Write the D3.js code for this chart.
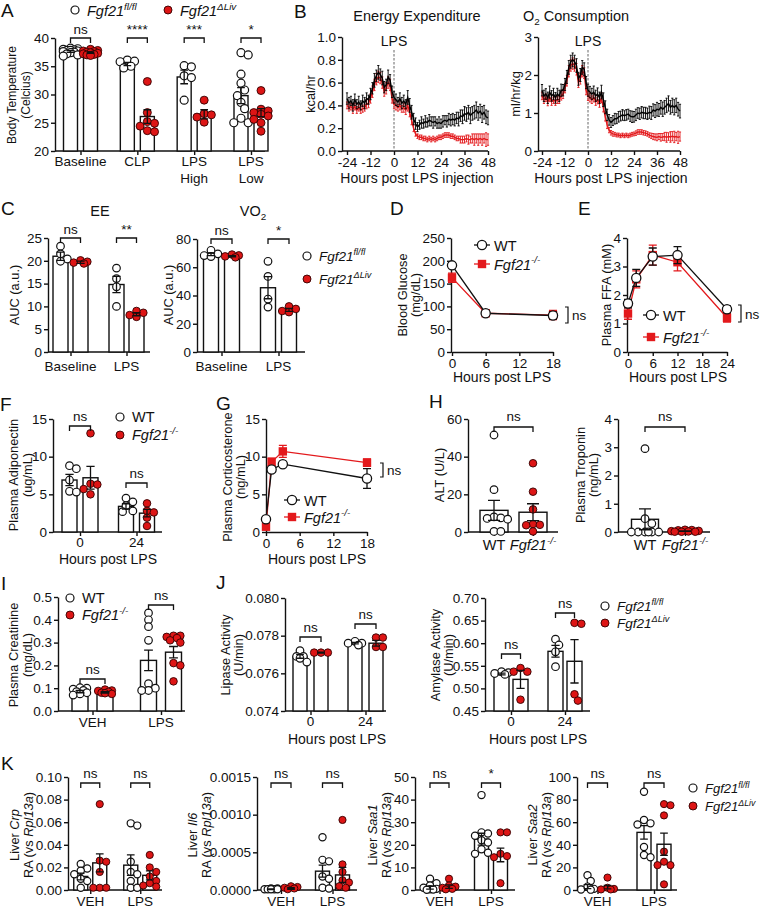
<!DOCTYPE html>
<html><head><meta charset="utf-8">
<script src="https://cdn.jsdelivr.net/npm/d3@7"></script>
<style>body{margin:0;background:#fff}svg{display:block}</style>
</head><body><svg id="c" width="763" height="909"></svg>
<script>
// ================= DATA =================
// Panel A
const A_groups = ["Baseline", "CLP", "LPS|High", "LPS|Low"];
const A_ticks = [20, 25, 30, 35, 40];
const A_sig = ["ns", "****", "***", "*"];
const A_fl_mean = [37.6, 35.4, 33.1, 29.8];
const A_fl_sem = [0.15, 0.3, 1.2, 1.4];
const A_fl_pts = [[38.2,38.1,38.0,37.9,37.8,37.8,37.7,37.6,37.5,37.4,37.2,37.0,36.8],[36.1,35.9,35.8,35.0,34.7],[35.1,34.9,33.3,33.0,29.0],[37.4,37.0,33.6,32.0,30.8,29.8,28.6,27.5,25.8,25.0,25.0]];
const A_ko_mean = [37.4, 26.1, 26.5, 26.8];
const A_ko_sem = [0.12, 1.2, 0.8, 0.7];
const A_ko_pts = [[38.0,37.8,37.7,37.6,37.5,37.4,37.3,37.2,37.1,37.0,36.9],[32.3,26.8,25.2,24.9,24.4,23.6,23.4],[29.0,26.6,26.4,26.0,25.1],[30.7,27.4,27.1,26.8,26.5,26.2,25.6,25.0,23.5]];

// Panel B
const B_xticks = [-24, -12, 0, 12, 24, 36, 48];
const B_hours = d3.range(-24, 49);
const B_EE_ticks = [0, 0.2, 0.4, 0.6, 0.8, 1.0];
const B_VO2_ticks = [0, 1, 2, 3];
const B_EE_fl = [
 .46,.42,.44,.40,.45,.41, .43,.40,.44,.42,.46,.45, .50,.55,.62,.66,.69,.67, .64,.56,.58,.65,.62,.52,
 .47,.45,.43,.46,.42,.44, .41,.47,.40,.34,.28,.24, .21,.23,.25,.24,.26,.25, .27,.26,.25,.26,.24,.25,
 .24,.26,.27,.26,.28,.27, .28,.27,.29,.28,.31,.30, .33,.32,.34,.31,.33,.34, .36,.33,.35,.32,.34,.30, .29];
const B_EE_fl_sem = [
 .05,.05,.04,.05,.05,.04, .05,.04,.05,.05,.05,.04, .05,.05,.06,.05,.06,.05, .06,.05,.05,.06,.05,.05,
 .05,.05,.04,.05,.05,.05, .04,.06,.06,.06,.05,.05, .04,.04,.05,.04,.05,.04, .05,.04,.05,.04,.04,.05,
 .04,.05,.04,.05,.05,.05, .05,.05,.05,.06,.05,.06, .06,.06,.06,.07,.06,.06, .07,.06,.06,.07,.06,.06, .06];
const B_EE_ko = [
 .40,.38,.39,.37,.39,.36, .38,.36,.37,.38,.41,.42, .46,.52,.58,.63,.65,.64, .60,.52,.55,.60,.58,.46,
 .41,.40,.38,.40,.37,.38, .36,.40,.34,.27,.20,.15, .13,.12,.12,.11,.11,.10, .11,.10,.11,.10,.11,.12,
 .12,.13,.14,.14,.14,.13, .13,.12,.11,.11,.10,.10, .10,.11,.10,.10,.11,.10, .11,.10,.11,.10,.11,.10, .10];
const B_EE_ko_sem = [
 .03,.03,.03,.04,.03,.03, .03,.03,.03,.03,.04,.04, .04,.05,.05,.05,.05,.05, .05,.04,.05,.05,.05,.04,
 .04,.04,.03,.04,.03,.04, .04,.05,.04,.04,.03,.02, .02,.02,.02,.02,.02,.02, .02,.02,.02,.02,.02,.02,
 .02,.02,.02,.02,.02,.02, .02,.02,.02,.02,.03,.03, .03,.03,.04,.03,.04,.05, .04,.05,.04,.05,.04,.06, .05];
const B_VO2_fl = [
 1.60,1.45,1.50,1.40,1.55,1.45, 1.50,1.40,1.50,1.45,1.60,1.60, 1.75,1.95,2.20,2.35,2.40,2.35, 2.25,1.90,2.00,2.20,2.15,1.80,
 1.60,1.55,1.50,1.55,1.45,1.50, 1.40,1.55,1.35,1.15,0.95,0.82, 0.75,0.80,0.85,0.85,0.90,0.92, 0.95,0.93,0.95,0.97,0.92,0.90,
 0.90,0.95,1.00,0.98,1.02,1.00, 1.00,0.98,1.02,1.00,1.08,1.05, 1.10,1.08,1.15,1.10,1.15,1.20, 1.25,1.15,1.20,1.15,1.20,1.10, 1.05];
const B_VO2_fl_sem = [
 .15,.15,.14,.15,.16,.14, .15,.14,.15,.15,.16,.15, .16,.17,.18,.17,.18,.17, .18,.17,.17,.18,.17,.16,
 .16,.15,.15,.16,.15,.16, .15,.18,.18,.17,.15,.14, .13,.13,.14,.13,.14,.13, .14,.13,.14,.13,.14,.15,
 .14,.15,.14,.15,.15,.15, .15,.15,.16,.17,.16,.17, .18,.17,.18,.19,.18,.19, .20,.18,.19,.20,.19,.18, .18];
const B_VO2_ko = [
 1.45,1.35,1.40,1.30,1.40,1.30, 1.35,1.30,1.35,1.35,1.45,1.50, 1.65,1.85,2.10,2.25,2.30,2.25, 2.15,1.80,1.90,2.10,2.05,1.60,
 1.45,1.40,1.35,1.40,1.30,1.35, 1.25,1.40,1.15,0.90,0.68,0.55, 0.48,0.45,0.44,0.42,0.42,0.40, 0.42,0.40,0.42,0.40,0.42,0.44,
 0.45,0.47,0.50,0.50,0.50,0.48, 0.47,0.45,0.42,0.40,0.38,0.37, 0.36,0.38,0.36,0.37,0.38,0.36, 0.38,0.37,0.39,0.37,0.38,0.36, 0.38];
const B_VO2_ko_sem = [
 .10,.10,.10,.11,.10,.10, .10,.10,.10,.10,.11,.12, .12,.14,.15,.15,.15,.15, .15,.13,.14,.15,.14,.12,
 .12,.11,.10,.11,.10,.11, .10,.13,.12,.11,.09,.07, .06,.06,.05,.05,.05,.05, .05,.05,.05,.05,.05,.05,
 .05,.06,.06,.06,.06,.06, .06,.06,.06,.07,.08,.08, .09,.08,.10,.09,.11,.13, .10,.14,.12,.15,.11,.16, .12];

// Panel C
const C_groups = ["Baseline", "LPS"];
const C_EE_ticks = [0, 5, 10, 15, 20, 25];
const C_VO2_ticks = [0, 20, 40, 60, 80];
const C_EE_sig = ["ns", "**"];
const C_VO2_sig = ["ns", "*"];
const C_EE_fl_mean = [21.0, 14.8], C_EE_fl_sem = [0.9, 1.8];
const C_EE_fl_pts = [[23.2,21.5,20.4,19.9],[18.4,16.1,14.3,10.0]];
const C_EE_ko_mean = [19.7, 8.3], C_EE_ko_sem = [0.25, 0.35];
const C_EE_ko_pts = [[20.1,19.8,19.6,19.4],[9.0,8.6,8.1,7.7]];
const C_VO2_fl_mean = [69.2, 45.5], C_VO2_fl_sem = [0.9, 7.8];
const C_VO2_fl_pts = [[72.0,69.5,68.3,67.6],[64.2,53.5,37.5,31.8]];
const C_VO2_ko_mean = [67.8, 29.8], C_VO2_ko_sem = [0.5, 1.1];
const C_VO2_ko_pts = [[69.0,68.4,67.7,67.0],[32.3,30.5,29.0,28.2]];

// Panel D
const D_hours = [0, 6, 18];
const D_xticks = [0, 6, 12, 18];
const D_yticks = [0, 50, 100, 150, 200, 250];
const D_wt = [190, 85, 80], D_wt_sem = [6, 3, 8];
const D_ko = [163, 85, 81], D_ko_sem = [10, 3, 10];

// Panel E
const E_hours = [0, 2, 6, 12, 24];
const E_xticks = [0, 6, 12, 18, 24];
const E_yticks = [0, 1, 2, 3, 4];
const E_wt = [1.7, 2.6, 3.35, 3.4, 1.5], E_wt_sem = [0.15, 0.3, 0.3, 0.3, 0.12];
const E_ko = [1.35, 2.55, 3.4, 3.15, 1.2], E_ko_sem = [0.2, 0.3, 0.35, 0.3, 0.15];

// Panel F
const F_groups = ["0", "24"];
const F_ticks = [0, 5, 10, 15];
const F_sig = ["ns", "ns"];
const F_wt_mean = [6.9, 3.4], F_wt_sem = [0.75, 0.35];
const F_wt_pts = [[8.8,8.4,6.9,5.4,5.3],[4.5,4.0,3.5,2.8,2.7]];
const F_ko_mean = [7.2, 2.5], F_ko_sem = [1.5, 0.5];
const F_ko_pts = [[13.1,6.4,6.3,5.7,5.0],[3.8,2.8,2.6,1.9,0.8]];

// Panel G
const G_hours = [0, 1, 3, 18];
const G_xticks = [0, 6, 12, 18];
const G_yticks = [0, 5, 10, 15];
const G_wt = [1.7, 8.3, 9.0, 7.1], G_wt_sem = [0.3, 0.3, 0.2, 1.3];
const G_ko = [0.7, 9.3, 10.7, 9.2], G_ko_sem = [0.2, 0.5, 0.8, 0.5];

// Panel H
const H_labels = ["WT", "Fgf21-/-"];
const H_ALT_ticks = [0, 20, 40, 60];
const H_Trop_ticks = [0, 1, 2, 3, 4];
const H_ALT_mean = [11.5, 10.5], H_ALT_sem = [5.3, 4.5];
const H_ALT_pts = [[51.5,22.5,8.0,7.5,7.2,6.8,0.3,0.3],[36.5,21.4,12.0,4.2,3.8,3.6,0.3]];
const H_Trop_mean = [0.45, 0.03], H_Trop_sem = [0.37, 0.01];
const H_Trop_pts = [[2.95,0.47,0.3,0,0,0,0,0,0],[0.08,0.07,0.06,0.04,0.03,0.02,0.01,0.01,0.01]];

// Panel I
const I_groups = ["VEH", "LPS"];
const I_ticks = [0, 0.1, 0.2, 0.3, 0.4, 0.5];
const I_sig = ["ns", "ns"];
const I_wt_mean = [0.085, 0.222], I_wt_sem = [0.005, 0.045];
const I_wt_pts = [[0.102,0.1,0.096,0.09,0.085,0.08,0.075,0.07],[0.43,0.40,0.37,0.31,0.12,0.10,0.09,0.09]];
const I_ko_mean = [0.082, 0.258], I_ko_sem = [0.003, 0.025];
const I_ko_pts = [[0.094,0.09,0.088,0.084,0.08,0.078,0.075],[0.33,0.33,0.325,0.32,0.31,0.30,0.21,0.20,0.13]];

// Panel J
const J_groups = ["0", "24"];
const J_lip_ticks = [0.074, 0.076, 0.078, 0.080];
const J_amy_ticks = [0.45, 0.50, 0.55, 0.60, 0.65, 0.70];
const J_sig = ["ns", "ns"];
const J_lip_fl_mean = [0.0769, 0.0776], J_lip_fl_sem = [0.0001, 0.00004];
const J_lip_fl_pts = [[0.0772,0.0769,0.0769,0.0768,0.0766],[0.0777,0.0776,0.0776,0.0775]];
const J_lip_ko_mean = [0.0771, 0.0776], J_lip_ko_sem = [0.00003, 0.00015];
const J_lip_ko_pts = [[0.0771,0.0771,0.0771],[0.0779,0.0779,0.0774,0.0774]];
const J_amy_fl_mean = [0.532, 0.582], J_amy_fl_sem = [0.002, 0.013];
const J_amy_fl_pts = [[0.537,0.535,0.533,0.531],[0.609,0.596,0.581,0.548]];
const J_amy_ko_mean = [0.52, 0.56], J_amy_ko_sem = [0.02, 0.048];
const J_amy_ko_pts = [[0.545,0.537,0.537,0.475],[0.643,0.645,0.487,0.473]];

// Panel K
const K_groups = ["VEH", "LPS"];
const K_crp_ticks = [0, 0.02, 0.04, 0.06, 0.08, 0.10];
const K_il6_ticks = [0, 0.0005, 0.0010, 0.0015];
const K_saa1_ticks = [0, 10, 20, 30, 40, 50];
const K_saa2_ticks = [0, 20, 40, 60, 80, 100];
const K_crp_sig = ["ns", "ns"], K_il6_sig = ["ns", "ns"], K_saa1_sig = ["ns", "*"], K_saa2_sig = ["ns", "ns"];
const K_crp_fl_mean = [0.012, 0.022], K_crp_fl_sem = [0.003, 0.009];
const K_crp_fl_pts = [[0.023,0.019,0.017,0.014,0.010,0.008,0.002],[0.059,0.057,0.025,0.016,0.014,0.008,0.002,0.002]];
const K_crp_ko_mean = [0.024, 0.013], K_crp_ko_sem = [0.008, 0.004];
const K_crp_ko_pts = [[0.076,0.026,0.025,0.016,0.002,0.002,0.002],[0.031,0.020,0.016,0.012,0.008,0.006,0.004,0.003]];
const K_il6_fl_mean = [0.00001, 0.00025], K_il6_fl_sem = [0.000005, 0.00008];
const K_il6_fl_pts = [[0.00002,0.00002,0.00001,0.00001,0.00001,0.00001,0.00001],[0.0007,0.0004,0.00038,0.00018,0.00015,0.00003,0.00002]];
const K_il6_ko_mean = [0.00002, 0.0002], K_il6_ko_sem = [0.00001, 0.0001];
const K_il6_ko_pts = [[0.00005,0.00004,0.00003,0.00002,0.00001],[0.00093,0.00034,0.00024,0.00013,0.0001,0.00005,0.00003]];
const K_saa1_fl_mean = [1.0, 22.5], K_saa1_fl_sem = [0.6, 2.6];
const K_saa1_fl_pts = [[5,3,2,1,0.5,0.3,0.2,0.1],[42,25.5,25,24,22,21,18,16.5,16]];
const K_saa1_ko_mean = [1.5, 15.5], K_saa1_ko_sem = [0.8, 3.0];
const K_saa1_ko_pts = [[5,2,1.5,1,0.5,0.3],[25.5,25.5,16,15,14.5,3]];
const K_saa2_fl_mean = [3, 51], K_saa2_fl_sem = [1.8, 6];
const K_saa2_fl_pts = [[13,8,3,1,0.5,0.3],[87,62,59,58,38,31,29]];
const K_saa2_ko_mean = [2.5, 40.5], K_saa2_ko_sem = [1.5, 9.8];
const K_saa2_ko_pts = [[11,2,1,0.5,0.5],[76,75,66,34,25,22,22,5]];

// ================= DRAWING =================
const svg = d3.select("#c");
const FONT = "'Liberation Sans', Arial, Helvetica, sans-serif";
const INK = "#111";
const RED = "#dd1515";
const LRED = "#e3191c";
const SW = 1.4;
const FS = 13.5;
const YL = 12.8;

const FL = [["Fgf21", "i"], ["fl/fl", "i^"]];
const DL = [["Fgf21", "i"], ["\u0394Liv", "i^"]];
const KO = [["Fgf21", "i"], ["-/-", "i^"]];

function rich(x, y, parts, fs, opts = {}) {
  const g = svg.append("g").attr("transform", `translate(${x},${y})${opts.rot ? " rotate(-90)" : ""}`);
  const t = g.append("text").attr("font-size", fs).attr("text-anchor", opts.anchor || "middle")
    .attr("font-family", FONT).attr("fill", INK);
  let shift = 0;
  (typeof parts === "string" ? [parts] : parts).forEach(p => {
    const s = Array.isArray(p) ? p[0] : p;
    const st = Array.isArray(p) ? p[1] : "";
    const ts = t.append("tspan").text(s);
    if (st.includes("i")) ts.attr("font-style", "italic");
    let target = 0;
    if (st.includes("^")) { target = -0.42 * fs; ts.attr("font-size", fs * 0.68); }
    if (st.includes("_")) { target = 0.3 * fs; ts.attr("font-size", fs * 0.68); }
    if (target - shift !== 0) ts.attr("dy", target - shift);
    shift = target;
  });
  return t;
}
function ylab(xc, cy, parts, fs = YL) { rich(xc + fs * 0.36, cy, parts, fs, { rot: true }); }
function letter(x, y, s) { rich(x, y, s, 19, { anchor: "start" }); }

function axisStyle(sel, fs = FS) {
  sel.attr("font-family", FONT).attr("font-size", fs);
  sel.selectAll("path,line").attr("stroke", INK).attr("stroke-width", SW);
  sel.selectAll("text").attr("fill", INK);
}
function yAxis(ax, y, ticks, fmt) {
  const g = svg.append("g").attr("transform", `translate(${ax},0)`)
    .call(d3.axisLeft(y).tickValues(ticks).tickFormat(fmt).tickSize(4).tickSizeOuter(0).tickPadding(2));
  axisStyle(g);
}
function errBar(g, cx, ya, yb, cap, color, w) {
  g.append("path").attr("d", `M${cx - cap / 2},${ya}H${cx + cap / 2}M${cx},${ya}V${yb}M${cx - cap / 2},${yb}H${cx + cap / 2}`)
    .attr("stroke", color).attr("stroke-width", w).attr("fill", "none");
}
function dot(g, x, y, r, red) {
  g.append("circle").attr("cx", x).attr("cy", y).attr("r", r)
    .attr("fill", red ? RED : "#fff").attr("stroke", red ? "#300" : INK).attr("stroke-width", red ? 0.9 : 1.2);
}
// deterministic scatter layout: spreads points sideways inside maxW, allows overlap when crowded
function swarm(vals, cx, y, r, maxW) {
  const placed = [];
  const cands = [0];
  const step = r * 0.9;
  for (let k = 1; k * step <= maxW + 0.01; k++) cands.push(k * step, -k * step);
  vals.map(v => ({ py: y(v) })).sort((a, b) => a.py - b.py).forEach(p => {
    let px = null, bestPx = cx, bestD = -1;
    for (const dx of cands) {
      const d = placed.length ? Math.min(...placed.map(q => Math.hypot(q.px - (cx + dx), q.py - p.py))) : 1e9;
      if (d >= 1.7 * r) { px = cx + dx; break; }
      if (d > bestD) { bestD = d; bestPx = cx + dx; }
    }
    placed.push({ px: px === null ? bestPx : px, py: p.py });
  });
  return placed;
}

function barDot(o) {
  const y = d3.scaleLinear().domain(o.domain).range([o.y0, o.y1]);
  const x = d3.scalePoint().domain(o.groups).range([o.c0, o.c1]);
  const g = svg.append("g");
  g.append("line").attr("x1", o.ax).attr("x2", o.xEnd).attr("y1", o.y0).attr("y2", o.y0)
    .attr("stroke", INK).attr("stroke-width", SW);
  if (o.barLabels) {
    const xb = d3.scalePoint().domain(o.barLabels).range([o.c0 + o.series[0].dx, o.c0 + o.series[1].dx]);
    const xa = g.append("g").attr("transform", `translate(0,${o.y0})`)
      .call(d3.axisBottom(xb).tickSize(4).tickSizeOuter(0).tickFormat(""));
    xa.select(".domain").remove(); axisStyle(xa);
    o.barLabels.forEach(l => rich(xb(l), o.labelY, l === "WT" ? "WT" : KO, 14.5));
  } else {
    const xa = g.append("g").attr("transform", `translate(0,${o.y0})`)
      .call(d3.axisBottom(x).tickSize(4).tickSizeOuter(0).tickFormat(""));
    xa.select(".domain").remove(); axisStyle(xa);
    o.groups.forEach(n => n.split("|").forEach((ln, li) => rich(x(n), o.labelY + li * 17, ln, 13.5)));
  }
  o.series.forEach(s => o.groups.forEach((n, gi) => {
    const cx = x(n) + s.dx, m = s.mean[gi];
    g.append("rect").attr("x", cx - o.bw / 2).attr("width", o.bw).attr("y", y(m)).attr("height", o.y0 - y(m))
      .attr("fill", "#fff").attr("stroke", INK).attr("stroke-width", SW);
  }));
  const maxW = o.spread || (o.bw / 2 + 1);
  o.series.forEach(s => o.groups.forEach((n, gi) => {
    const cx = x(n) + s.dx;
    swarm(s.pts[gi], cx, y, o.r, maxW).forEach(p => dot(g, p.px, p.py, o.r, s.red));
  }));
  o.series.forEach(s => o.groups.forEach((n, gi) => {
    const cx = x(n) + s.dx, m = s.mean[gi], e = s.sem[gi];
    errBar(g, cx, y(m + e), y(m - e), o.cap || o.bw * 0.55, INK, 1.3);
  }));
  yAxis(o.ax, y, o.ticks, o.fmt);
  if (o.sig) o.groups.forEach((n, gi) => {
    const x1 = x(n) + o.series[0].dx, x2 = x(n) + o.series[1].dx, by = o.sigB[gi];
    g.append("path").attr("d", `M${x1},${by + 5}V${by}H${x2}V${by + 5}`).attr("fill", "none")
      .attr("stroke", INK).attr("stroke-width", 1.3);
    rich((x1 + x2) / 2, o.sigT[gi], o.sig[gi], FS);
  });
}

function marker(g, type, x, y) {
  if (type === "c") g.append("circle").attr("cx", x).attr("cy", y).attr("r", 4.6).attr("fill", "#fff").attr("stroke", INK).attr("stroke-width", 1.3);
  else g.append("rect").attr("x", x - 4.2).attr("y", y - 4.2).attr("width", 8.4).attr("height", 8.4).attr("fill", LRED);
}
function lineChart(o) {
  const x = d3.scaleLinear().domain(o.xdom).range(o.xr);
  const y = d3.scaleLinear().domain(o.ydom).range([o.y0, o.y1]);
  const xa = svg.append("g").attr("transform", `translate(0,${o.y0})`)
    .call(d3.axisBottom(x).tickValues(o.xticks).tickFormat(d => String(d)).tickSize(4).tickSizeOuter(0).tickPadding(2));
  axisStyle(xa);
  svg.append("line").attr("x1", o.ax).attr("x2", o.xr[0]).attr("y1", o.y0).attr("y2", o.y0).attr("stroke", INK).attr("stroke-width", SW);
  yAxis(o.ax, y, o.yticks, o.fmt);
  const g = svg.append("g");
  const line = d3.line().x(d => x(d[0])).y(d => y(d[1]));
  o.series.forEach(s => {
    const pts = s.h.map((h, i) => [h, s.v[i], s.e[i]]);
    g.append("path").attr("d", line(pts)).attr("fill", "none").attr("stroke", s.color).attr("stroke-width", 1.3);
    pts.forEach(p => errBar(g, x(p[0]), y(p[1] + p[2]), y(p[1] - p[2]), 8, s.color, 1.3));
    pts.forEach(p => marker(g, s.m, x(p[0]), y(p[1])));
  });
  o.leg.forEach(l => {
    const col = l.m === "c" ? INK : LRED;
    svg.append("line").attr("x1", l.x - 8).attr("x2", l.x + 8).attr("y1", l.y).attr("y2", l.y).attr("stroke", col).attr("stroke-width", 1.3);
    marker(svg, l.m, l.x, l.y);
    rich(l.x + 12, l.y + 5.5, l.t, 14.5, { anchor: "start" });
  });
  if (o.ns) {
    const b = o.ns;
    svg.append("path").attr("d", `M${b.x - 3},${b.ya}H${b.x}V${b.yb}H${b.x - 3}`).attr("fill", "none").attr("stroke", INK).attr("stroke-width", 1.2);
    rich(b.x + 4, (b.ya + b.yb) / 2 + 5, "ns", FS, { anchor: "start" });
  }
}

function tsChart(o) {
  const x = d3.scaleLinear().domain([-24, 48]).range(o.xr);
  const y = d3.scaleLinear().domain(o.ydom).range([o.y0, o.y1]);
  const xa = svg.append("g").attr("transform", `translate(0,${o.y0})`)
    .call(d3.axisBottom(x).tickValues(B_xticks).tickFormat(d => String(d)).tickSize(4).tickSizeOuter(0).tickPadding(2));
  xa.select(".domain").remove(); axisStyle(xa);
  svg.append("line").attr("x1", o.ax).attr("x2", o.xr[1]).attr("y1", o.y0).attr("y2", o.y0).attr("stroke", INK).attr("stroke-width", SW);
  svg.append("line").attr("x1", x(0)).attr("x2", x(0)).attr("y1", 50).attr("y2", o.y0)
    .attr("stroke", "#666").attr("stroke-width", 1).attr("stroke-dasharray", "2.5,1.5");
  rich(x(0), 46, "LPS", 14);
  const g = svg.append("g");
  o.series.forEach(s => {
    const pts = B_hours.map((h, i) => [h, s.v[i], s.e[i]]);
    pts.forEach(p => errBar(g, x(p[0]), y(p[1] + p[2]), y(p[1] - p[2]), 2.2, s.color, 0.9));
    g.append("path").attr("d", d3.line().x(d => x(d[0])).y(d => y(d[1]))(pts)).attr("fill", "none").attr("stroke", s.color).attr("stroke-width", 1.4);
  });
  yAxis(o.ax, y, o.yticks, o.fmt);
}

function legend2(x, y1, y2, r, fs) {
  dot(svg, x, y1, r, false); rich(x + 12, y1 + 5, FL, fs, { anchor: "start" });
  dot(svg, x, y2, r, true); rich(x + 12, y2 + 5, DL, fs, { anchor: "start" });
}
function legendKO(x, y1, y2, r, fs) {
  dot(svg, x, y1, r, false); rich(x + 12, y1 + 5, "WT", fs, { anchor: "start" });
  dot(svg, x, y2, r, true); rich(x + 12, y2 + 5, KO, fs, { anchor: "start" });
}
const fD = d3.format("d");

// ---------- Panel A ----------
letter(1, 17, "A");
dot(svg, 75, 10, 4, false); rich(87, 16, FL, 14.5, { anchor: "start" });
dot(svg, 168, 10, 4, true); rich(180, 16, DL, 14.5, { anchor: "start" });
barDot({ ax: 55, xEnd: 265, y0: 151, y1: 38, domain: [20, 40], ticks: A_ticks, fmt: fD, groups: A_groups,
  c0: 80.5, c1: 251, bw: 14, r: 4, labelY: 166, sig: A_sig, sigB: [38, 38, 38, 38], sigT: [34, 34, 34, 34],
  series: [{ dx: -10, mean: A_fl_mean, sem: A_fl_sem, pts: A_fl_pts, red: false },
           { dx: 10, mean: A_ko_mean, sem: A_ko_sem, pts: A_ko_pts, red: true }] });
ylab(12, 95, "Body Temperature", 12); ylab(26, 95, "(Celcius)", 12);

// ---------- Panel B ----------
letter(294, 18, "B");
rich(417, 21, "Energy Expenditure", 14.5);
rich(576, 21, ["O", ["2", "_"], " Consumption"], 14.5);
tsChart({ ax: 342, xr: [347, 488], y0: 151, y1: 37, ydom: [0, 1], yticks: B_EE_ticks, fmt: d3.format(".1f"),
  series: [{ v: B_EE_ko, e: B_EE_ko_sem, color: LRED }, { v: B_EE_fl, e: B_EE_fl_sem, color: "#000" }] });
tsChart({ ax: 538, xr: [542, 680], y0: 151, y1: 37, ydom: [0, 3], yticks: B_VO2_ticks, fmt: fD,
  series: [{ v: B_VO2_ko, e: B_VO2_ko_sem, color: LRED }, { v: B_VO2_fl, e: B_VO2_fl_sem, color: "#000" }] });
ylab(310, 94, "kcal/hr"); ylab(515, 94, "ml/hr/kg");
rich(417, 183, "Hours post LPS injection", 14);
rich(611, 183, "Hours post LPS injection", 14);

// ---------- Panel C ----------
letter(1, 215, "C");
rich(100, 216, "EE", 14.5);
rich(253, 216, ["VO", ["2", "_"]], 14.5);
barDot({ ax: 48, xEnd: 150, y0: 352, y1: 238, domain: [0, 25], ticks: C_EE_ticks, fmt: fD, groups: C_groups,
  c0: 70.5, c1: 126.5, bw: 15, r: 3.8, labelY: 371, sig: C_EE_sig, sigB: [238, 238], sigT: [234, 234],
  series: [{ dx: -10, mean: C_EE_fl_mean, sem: C_EE_fl_sem, pts: C_EE_fl_pts, red: false },
           { dx: 10, mean: C_EE_ko_mean, sem: C_EE_ko_sem, pts: C_EE_ko_pts, red: true }] });
barDot({ ax: 197, xEnd: 305, y0: 352, y1: 239, domain: [0, 80], ticks: C_VO2_ticks, fmt: fD, groups: C_groups,
  c0: 221.5, c1: 278.5, bw: 15, r: 3.8, labelY: 371, sig: C_VO2_sig, sigB: [239, 239], sigT: [235, 235],
  series: [{ dx: -10.5, mean: C_VO2_fl_mean, sem: C_VO2_fl_sem, pts: C_VO2_fl_pts, red: false },
           { dx: 10.5, mean: C_VO2_ko_mean, sem: C_VO2_ko_sem, pts: C_VO2_ko_pts, red: true }] });
ylab(14, 295, "AUC (a.u.)"); ylab(168, 295, "AUC (a.u.)");
legend2(307, 256, 279, 4, 13.5);

// ---------- Panel D ----------
letter(390, 215, "D");
lineChart({ ax: 451, xr: [452, 553], xdom: [0, 18], xticks: D_xticks, y0: 352, y1: 238, ydom: [0, 250], yticks: D_yticks, fmt: fD,
  series: [{ h: D_hours, v: D_ko, e: D_ko_sem, color: LRED, m: "s" }, { h: D_hours, v: D_wt, e: D_wt_sem, color: INK, m: "c" }],
  leg: [{ x: 482, y: 245, m: "c", t: "WT" }, { x: 482, y: 264, m: "s", t: KO }],
  ns: { x: 568, ya: 307, yb: 323 } });
rich(502, 382, "Hours post LPS", 14);
ylab(402, 295, "Blood Glucose"); ylab(415, 295, "(mg/dL)");

// ---------- Panel E ----------
letter(578, 215, "E");
lineChart({ ax: 627, xr: [628, 727], xdom: [0, 24], xticks: E_xticks, y0: 352, y1: 238, ydom: [0, 4], yticks: E_yticks, fmt: fD,
  series: [{ h: E_hours, v: E_ko, e: E_ko_sem, color: LRED, m: "s" }, { h: E_hours, v: E_wt, e: E_wt_sem, color: INK, m: "c" }],
  leg: [{ x: 651, y: 315, m: "c", t: "WT" }, { x: 651, y: 337, m: "s", t: KO }],
  ns: { x: 741, ya: 305, yb: 322 } });
rich(678, 382, "Hours post LPS", 14);
ylab(606, 295, "Plasma FFA (mM)");

// ---------- Panel F ----------
letter(0, 411, "F");
barDot({ ax: 53, xEnd: 162, y0: 532, y1: 419, domain: [0, 15], ticks: F_ticks, fmt: fD, groups: F_groups,
  c0: 80, c1: 136.5, bw: 15, r: 3.8, labelY: 547, sig: F_sig, sigB: [426, 483], sigT: [421, 478],
  series: [{ dx: -10.5, mean: F_wt_mean, sem: F_wt_sem, pts: F_wt_pts, red: false },
           { dx: 10.5, mean: F_ko_mean, sem: F_ko_sem, pts: F_ko_pts, red: true }] });
rich(108, 564, "Hours post LPS", 14);
ylab(13, 475, "Plasma Adiponectin"); ylab(27, 475, "(ug/mL)");
legendKO(120, 417, 435, 4, 14.5);

// ---------- Panel G ----------
letter(216, 410, "G");
lineChart({ ax: 266, xr: [266, 367], xdom: [0, 18], xticks: G_xticks, y0: 532, y1: 419, ydom: [0, 15], yticks: G_yticks, fmt: fD,
  series: [{ h: G_hours, v: G_ko, e: G_ko_sem, color: LRED, m: "s" }, { h: G_hours, v: G_wt, e: G_wt_sem, color: INK, m: "c" }],
  leg: [{ x: 292, y: 500, m: "c", t: "WT" }, { x: 292, y: 517, m: "s", t: KO }],
  ns: { x: 383, ya: 463, yb: 477 } });
rich(317, 564, "Hours post LPS", 14);
ylab(227, 477, "Plasma Corticosterone"); ylab(240, 477, "(ng/mL)");

// ---------- Panel H ----------
letter(429, 408, "H");
barDot({ ax: 468, xEnd: 558, y0: 532, y1: 419, domain: [0, 60], ticks: H_ALT_ticks, fmt: fD, groups: ["g"],
  c0: 513.5, c1: 513.5, bw: 28, cap: 12, r: 3.8, spread: 15, labelY: 550, barLabels: H_labels, sig: ["ns"], sigB: [427], sigT: [421],
  series: [{ dx: -19.5, mean: [H_ALT_mean[0]], sem: [H_ALT_sem[0]], pts: [H_ALT_pts[0]], red: false },
           { dx: 19.5, mean: [H_ALT_mean[1]], sem: [H_ALT_sem[1]], pts: [H_ALT_pts[1]], red: true }] });
ylab(439, 475, "ALT (U/L)");
barDot({ ax: 618, xEnd: 710, y0: 532, y1: 419, domain: [0, 4], ticks: H_Trop_ticks, fmt: fD, groups: ["g"],
  c0: 665, c1: 665, bw: 27, cap: 12, r: 3.8, spread: 15, labelY: 550, barLabels: H_labels, sig: ["ns"], sigB: [427], sigT: [421],
  series: [{ dx: -20, mean: [H_Trop_mean[0]], sem: [H_Trop_sem[0]], pts: [H_Trop_pts[0]], red: false },
           { dx: 20, mean: [H_Trop_mean[1]], sem: [H_Trop_sem[1]], pts: [H_Trop_pts[1]], red: true }] });
ylab(580, 475, "Plasma Troponin"); ylab(593, 475, "(ng/mL)");

// ---------- Panel I ----------
letter(1, 590, "I");
barDot({ ax: 58, xEnd: 185, y0: 711, y1: 597, domain: [0, 0.5], ticks: I_ticks, fmt: d3.format(".1f"), groups: I_groups,
  c0: 92.5, c1: 161, bw: 16, r: 3.8, labelY: 727, sig: I_sig, sigB: [679, 605], sigT: [674, 600],
  series: [{ dx: -12.5, mean: I_wt_mean, sem: I_wt_sem, pts: I_wt_pts, red: false },
           { dx: 12.5, mean: I_ko_mean, sem: I_ko_sem, pts: I_ko_pts, red: true }] });
ylab(13, 655, "Plasma Creatinine"); ylab(27, 655, "(mg/dL)");
legendKO(70, 598, 615, 4, 14.5);

// ---------- Panel J ----------
letter(216, 589, "J");
barDot({ ax: 285, xEnd: 386, y0: 711, y1: 598, domain: [0.074, 0.080], ticks: J_lip_ticks, fmt: d3.format(".3f"), groups: J_groups,
  c0: 310.5, c1: 365.5, bw: 14, r: 3.8, labelY: 726, sig: J_sig, sigB: [637, 624], sigT: [632, 619],
  series: [{ dx: -10.5, mean: J_lip_fl_mean, sem: J_lip_fl_sem, pts: J_lip_fl_pts, red: false },
           { dx: 10.5, mean: J_lip_ko_mean, sem: J_lip_ko_sem, pts: J_lip_ko_pts, red: true }] });
rich(337, 744, "Hours post LPS", 14);
ylab(225, 655, "Lipase Activity"); ylab(238, 655, "(U/min)");
barDot({ ax: 485, xEnd: 590, y0: 711, y1: 598, domain: [0.45, 0.70], ticks: J_amy_ticks, fmt: d3.format(".2f"), groups: J_groups,
  c0: 511, c1: 565, bw: 15, r: 3.8, labelY: 726, sig: J_sig, sigB: [654, 613], sigT: [649, 608],
  series: [{ dx: -9.5, mean: J_amy_fl_mean, sem: J_amy_fl_sem, pts: J_amy_fl_pts, red: false },
           { dx: 9.5, mean: J_amy_ko_mean, sem: J_amy_ko_sem, pts: J_amy_ko_pts, red: true }] });
rich(538, 744, "Hours post LPS", 14);
ylab(435, 655, "Amylase Activity"); ylab(448, 655, "(U/min)");
legend2(605, 606, 623, 4, 13.5);

// ---------- Panel K ----------
letter(1, 770, "K");
const Kc = { y0: 890, y1: 777, labelY: 906, sigB: [783, 783], sigT: [778, 778], r: 3.6, bw: 14, groups: K_groups };
barDot(Object.assign({}, Kc, { ax: 68, xEnd: 162, domain: [0, 0.1], ticks: K_crp_ticks, fmt: d3.format(".2f"), c0: 90.25, c1: 140.25, sig: K_crp_sig,
  series: [{ dx: -9.5, mean: K_crp_fl_mean, sem: K_crp_fl_sem, pts: K_crp_fl_pts, red: false },
           { dx: 9.5, mean: K_crp_ko_mean, sem: K_crp_ko_sem, pts: K_crp_ko_pts, red: true }] }));
ylab(14, 835, ["Liver ", ["Crp", "i"]]); ylab(28, 835, ["RA (vs ", ["Rpl13a", "i"], ")"]);
barDot(Object.assign({}, Kc, { ax: 257, xEnd: 357, domain: [0, 0.0015], ticks: K_il6_ticks, fmt: d3.format(".4f"), c0: 281, c1: 332.5, sig: K_il6_sig,
  series: [{ dx: -10, mean: K_il6_fl_mean, sem: K_il6_fl_sem, pts: K_il6_fl_pts, red: false },
           { dx: 10, mean: K_il6_ko_mean, sem: K_il6_ko_sem, pts: K_il6_ko_pts, red: true }] }));
ylab(192, 835, ["Liver ", ["Il6", "i"]]); ylab(206, 835, ["RA (vs ", ["Rpl13a", "i"], ")"]);
barDot(Object.assign({}, Kc, { ax: 415, xEnd: 515, domain: [0, 50], ticks: K_saa1_ticks, fmt: fD, c0: 439.5, c1: 491, sig: K_saa1_sig,
  series: [{ dx: -9.5, mean: K_saa1_fl_mean, sem: K_saa1_fl_sem, pts: K_saa1_fl_pts, red: false },
           { dx: 9.5, mean: K_saa1_ko_mean, sem: K_saa1_ko_sem, pts: K_saa1_ko_pts, red: true }] }));
ylab(372, 835, ["Liver ", ["Saa1", "i"]]); ylab(386, 835, ["RA (vs ", ["Rpl13a", "i"], ")"]);
barDot(Object.assign({}, Kc, { ax: 577, xEnd: 677, domain: [0, 100], ticks: K_saa2_ticks, fmt: fD, c0: 597.5, c1: 654, sig: K_saa2_sig,
  series: [{ dx: -10, mean: K_saa2_fl_mean, sem: K_saa2_fl_sem, pts: K_saa2_fl_pts, red: false },
           { dx: 10, mean: K_saa2_ko_mean, sem: K_saa2_ko_sem, pts: K_saa2_ko_pts, red: true }] }));
ylab(532, 835, ["Liver ", ["Saa2", "i"]]); ylab(546, 835, ["RA (vs ", ["Rpl13a", "i"], ")"]);
legend2(693, 788, 806, 4, 13);
</script></body></html>
